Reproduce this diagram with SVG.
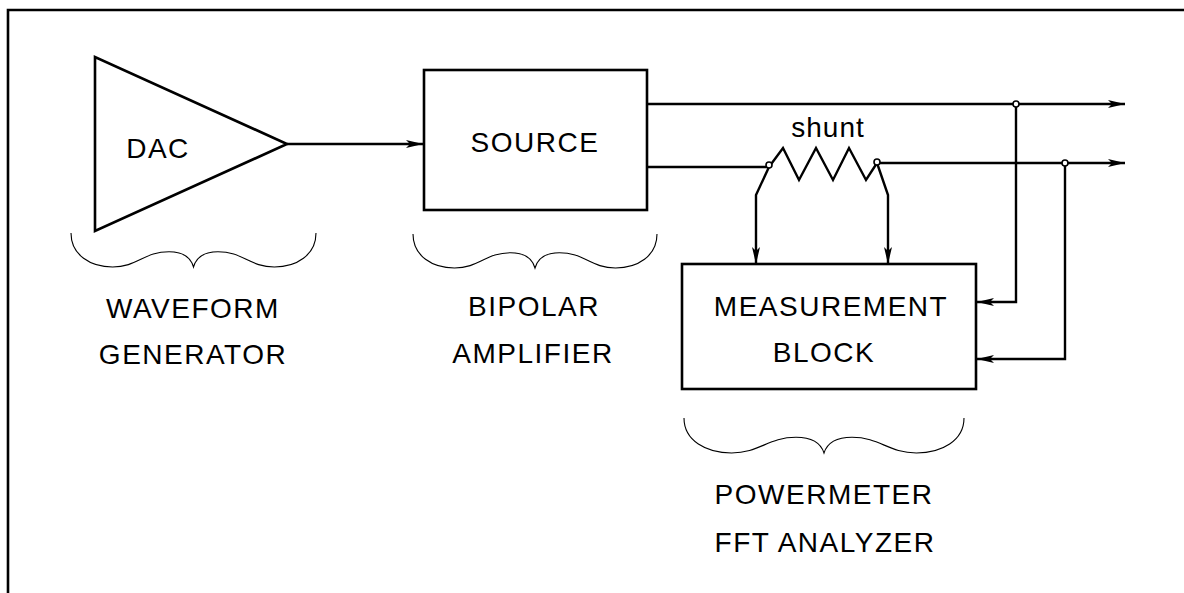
<svg xmlns="http://www.w3.org/2000/svg" width="1184" height="593" viewBox="0 0 1184 593">
  <style>
    .ln { fill: none; stroke: #000; stroke-width: 2.4; stroke-linejoin: miter; }
    .box { fill: #fff; stroke: #000; stroke-width: 2.6; }
    .br { fill: none; stroke: #000; stroke-width: 1.1; }
    .tx { font-family: "Liberation Sans", Arial, sans-serif; font-size: 28px; letter-spacing: 1.5px; fill: #000; text-anchor: middle; }
    .dot { fill: #fff; stroke: #000; stroke-width: 1.6; }
  </style>
  <defs>
    <marker id="arr" viewBox="0 0 17 10" refX="17" refY="5" markerWidth="17" markerHeight="10" orient="auto" markerUnits="userSpaceOnUse">
      <path d="M0,1 L17,5 L0,9 L4,5 z" fill="#000"/>
    </marker>
  </defs>
  <rect width="1184" height="593" fill="#fff"/>
  <path d="M8,593 L8,10 L1184,10" fill="none" stroke="#000" stroke-width="2.6"/>

  <g id="dac">
    <polygon points="95,57 95,231 287,144" class="box"/>
    <text x="158" y="158" class="tx">DAC</text>
  </g>
  <g id="source">
    <rect x="424" y="70" width="223" height="140" class="box"/>
    <text x="535" y="152" class="tx">SOURCE</text>
  </g>
  <g id="measurement">
    <rect x="682" y="264" width="294" height="125" class="box"/>
    <text x="831" y="316" class="tx">MEASUREMENT</text>
    <text x="824" y="362" class="tx">BLOCK</text>
  </g>
  <g id="shunt">
    <polyline points="769,167 783,148 799,180 816,148 833,180 849,148 866,180 877,163" class="ln"/>
    <text x="828" y="137" class="tx" style="letter-spacing:1px">shunt</text>
  </g>
  <g id="waveform-generator">
    <path class="br" d="M71,233 C71,255.1 90.6,267 112.65,267 C137.15,267 144.5,251.7 169,251.7 C183.7,251.7 191.05,258.5 193.5,267 C195.95,258.5 203.3,251.7 218,251.7 C242.5,251.7 249.85,267 274.35,267 C296.4,267 316,255.1 316,233"/>
    <text x="193" y="318" class="tx">WAVEFORM</text>
    <text x="193" y="364" class="tx">GENERATOR</text>
  </g>
  <g id="bipolar-amplifier">
    <path class="br" d="M413,234 C413,256.1 432.5,268 454.5,268 C478.9,268 486.2,252.7 510.6,252.7 C525.2,252.7 532.6,259.5 535,268 C537.4,259.5 544.8,252.7 559.4,252.7 C583.8,252.7 591.1,268 615.5,268 C637.5,268 657,256.1 657,234"/>
    <text x="534" y="316" class="tx">BIPOLAR</text>
    <text x="533" y="363" class="tx">AMPLIFIER</text>
  </g>
  <g id="powermeter">
    <path class="br" d="M684,418 C684,440.75 706.4,453 731.6,453 C759.6,453 768,437.25 796,437.25 C812.8,437.25 821.2,444.25 824,453 C826.8,444.25 835.2,437.25 852,437.25 C880,437.25 888.4,453 916.4,453 C941.6,453 964,440.75 964,418"/>
    <text x="824" y="504" class="tx">POWERMETER</text>
    <text x="825" y="552" class="tx">FFT ANALYZER</text>
  </g>

  <g id="connectors">
    <line x1="287" y1="144" x2="423" y2="144" class="ln" marker-end="url(#arr)"/>
    <line x1="647" y1="104" x2="1125" y2="104" class="ln" marker-end="url(#arr)"/>
    <line x1="647" y1="167" x2="769" y2="167" class="ln"/>
    <line x1="877" y1="163" x2="1125" y2="163" class="ln" marker-end="url(#arr)"/>
    <polyline points="769,167 756,195 756,264" class="ln" marker-end="url(#arr)"/>
    <polyline points="877,163 888,195 888,264" class="ln" marker-end="url(#arr)"/>
    <polyline points="1016,104 1016,302 977,302" class="ln" marker-end="url(#arr)"/>
    <polyline points="1065,163 1065,359 977,359" class="ln" marker-end="url(#arr)"/>
    <circle cx="769" cy="165" r="3" class="dot"/>
    <circle cx="877" cy="162" r="3" class="dot"/>
    <circle cx="1016" cy="104" r="3" class="dot"/>
    <circle cx="1065" cy="163" r="3" class="dot"/>
  </g>
</svg>
